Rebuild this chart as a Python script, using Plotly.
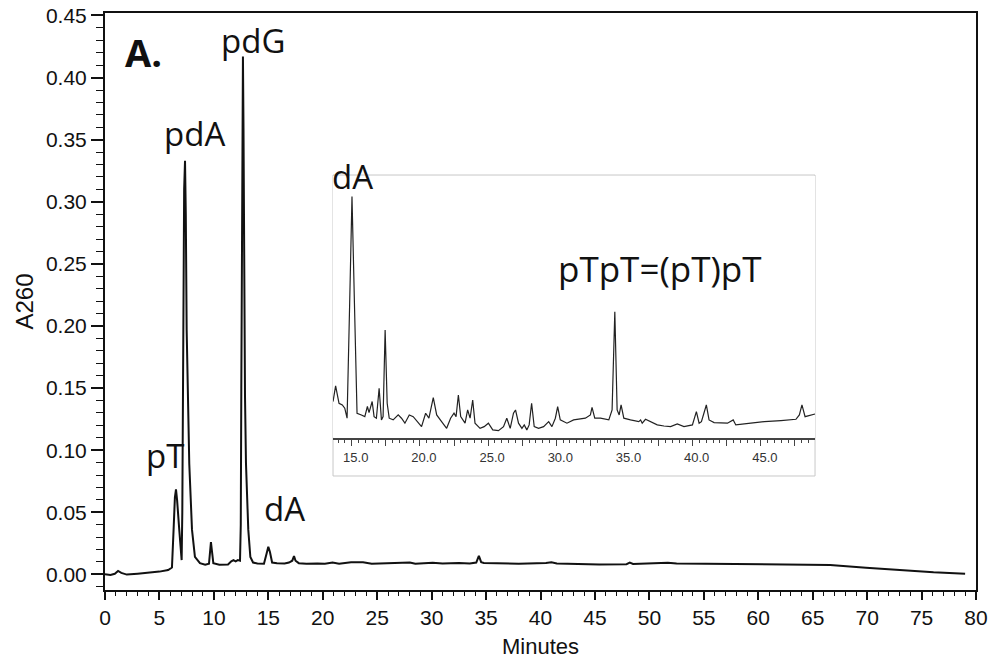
import plotly.graph_objects as go

# Main chromatogram (minutes, A260)
main_t = [0.0, 0.5, 0.9, 1.2, 1.5, 2.0, 3.0, 4.0, 5.0, 5.8, 6.15, 6.3, 6.42, 6.52, 6.62, 6.82, 6.95, 7.04,
          7.1, 7.17, 7.27, 7.35, 7.42, 7.5, 7.59, 7.74, 7.99, 8.26, 8.72, 9.2, 9.55, 9.65, 9.73, 9.82, 9.95,
          10.5, 11.3, 11.6, 11.8, 12.0, 12.2, 12.4, 12.47, 12.52, 12.57, 12.63, 12.67, 12.72, 12.79, 12.86,
          12.95, 13.16, 13.35, 13.6, 14.0, 14.6, 14.85, 15.0, 15.15, 15.35, 15.8, 16.5, 16.9, 17.2, 17.36,
          17.5, 17.8, 18.5, 19.5, 20.2, 20.9, 21.5, 22.6, 23.7, 24.5, 26.0, 26.8, 28.0, 28.5, 30.1, 31.0,
          32.5, 33.5, 34.1, 34.34, 34.55, 34.8, 36.0, 38.0, 40.5, 41.0, 41.5, 43.0, 45.4, 47.9, 48.2, 48.5,
          51.0, 51.7, 52.5, 54.6, 57.4, 59.8, 63.0, 66.6, 69.9, 72.5, 74.8, 76.1, 79.0]
main_a = [0.0000, -0.0005, 0.0005, 0.0027, 0.0012, -0.0002, 0.0005, 0.0012, 0.0022, 0.0035, 0.0055, 0.036,
          0.062, 0.0684, 0.060, 0.036, 0.016, 0.0115, 0.05, 0.2, 0.31, 0.333, 0.29, 0.197, 0.143, 0.089, 0.036,
          0.014, 0.009, 0.0078, 0.0085, 0.02, 0.026, 0.019, 0.009, 0.0078, 0.008, 0.0105, 0.0115, 0.0105,
          0.0115, 0.011, 0.04, 0.15, 0.3, 0.4, 0.417, 0.36, 0.197, 0.143, 0.089, 0.036, 0.014, 0.0095, 0.0088,
          0.0085, 0.017, 0.0222, 0.018, 0.0095, 0.009, 0.0088, 0.0095, 0.011, 0.0147, 0.011, 0.009, 0.0085,
          0.0088, 0.0085, 0.0095, 0.0085, 0.0098, 0.0098, 0.0085, 0.0088, 0.0092, 0.0095, 0.0085, 0.0093,
          0.0088, 0.0092, 0.0088, 0.0095, 0.0149, 0.0098, 0.0092, 0.009, 0.0086, 0.0092, 0.0097, 0.0088,
          0.0085, 0.008, 0.0082, 0.0094, 0.0083, 0.0087, 0.0094, 0.0088, 0.0086, 0.0083, 0.0076, 0.0075,
          0.0075, 0.0053, 0.0035, 0.0021, 0.0016, 0.0005]

# Inset (zoomed region, mAU)
inset_t = [13.63, 13.82, 14.07, 14.31, 14.49, 14.66, 14.85, 15.02, 15.20, 15.39, 15.71, 15.96, 16.15, 16.27,
           16.50, 16.64, 16.81, 17.01, 17.18, 17.30, 17.45, 17.60, 17.75, 18.04, 18.41, 18.65, 18.90, 19.22,
           19.51, 19.80, 20.12, 20.42, 20.66, 20.98, 21.23, 21.59, 21.96, 22.25, 22.50, 22.65, 22.82, 22.99,
           23.31, 23.50, 23.68, 23.87, 24.04, 24.41, 24.71, 25.02, 25.34, 25.76, 26.13, 26.37, 26.62, 26.86,
           27.01, 27.23, 27.48, 27.65, 27.84, 28.01, 28.19, 28.38, 28.70, 29.07, 29.44, 29.68, 29.93, 30.10,
           30.29, 30.78, 31.27, 32.13, 32.50, 32.62, 32.82, 33.24, 33.85, 34.09, 34.29, 34.46, 34.61, 34.75,
           34.95, 35.44, 36.05, 36.18, 36.30, 36.54, 36.91, 37.40, 37.89, 38.38, 38.87, 39.36, 39.98, 40.27,
           40.47, 40.64, 41.00, 41.20, 41.57, 42.55, 42.97, 43.16, 44.26, 45.25, 46.47, 47.57, 47.82, 48.01,
           48.24, 48.68, 48.97]
inset_a = [8.86, 9.86, 8.75, 8.64, 8.43, 7.79, 15.17, 22.02, 15.17, 8.11, 8.00, 7.89, 8.54, 8.15,
           8.86, 7.89, 7.79, 9.71, 7.68, 7.89, 13.46, 8.75, 7.79, 7.68, 8.00, 7.79, 7.47, 8.00,
           7.89, 7.57, 7.25, 8.11, 7.79, 9.11, 8.00, 7.57, 7.14, 7.79, 8.11, 7.89, 9.28, 7.89,
           7.47, 8.32, 7.79, 8.96, 7.47, 7.14, 7.25, 7.47, 7.04, 6.99, 7.25, 7.79, 7.14, 8.11, 8.32,
           7.47, 7.14, 7.36, 7.04, 7.36, 8.75, 7.25, 7.14, 7.25, 7.57, 7.25, 7.79, 8.54,
           7.68, 7.47, 7.68, 7.79, 8.00, 8.49, 7.79, 7.79, 7.68, 8.32, 14.63, 8.32, 8.00, 8.64,
           7.79, 7.68, 7.57, 7.68, 7.47, 7.72, 7.57, 7.36, 7.29, 7.25, 7.42, 7.25, 7.36, 8.21,
           7.47, 7.57, 8.64, 7.68, 7.51, 7.47, 7.68, 7.36, 7.47, 7.57, 7.64, 7.72, 8.00, 8.64,
           7.89, 8.00, 8.06]

inset_ticks = [15, 17.5, 20, 22.5, 25, 27.5, 30, 32.5, 35, 37.5, 40, 42.5, 45, 47.5]
inset_ticktext = ["15.0", "", "20.0", "", "25.0", "", "30.0", "", "35.0", "", "40.0", "", "45.0", ""]

fig = go.Figure()
fig.add_trace(go.Scatter(x=main_t, y=main_a, mode="lines",
                         line=dict(color="#111111", width=2), showlegend=False, hoverinfo="skip"))
fig.add_trace(go.Scatter(x=inset_t, y=inset_a, mode="lines", xaxis="x2", yaxis="y2",
                         line=dict(color="#222222", width=1.2), showlegend=False, hoverinfo="skip"))

tickfont = dict(family="Liberation Sans, Arial, sans-serif", size=21, color="#111111")

fig.update_layout(
    width=995, height=663,
    margin=dict(l=105, r=19, t=13, b=73),
    paper_bgcolor="white", plot_bgcolor="white",
    xaxis=dict(range=[0, 80], tick0=0, dtick=5, ticks="outside", ticklen=8, tickwidth=1.5,
               tickcolor="#111111", showline=True, linecolor="#111111", linewidth=2, mirror=True,
               showgrid=False, zeroline=False, tickfont=tickfont, automargin=False,
               minor=dict(dtick=1, tick0=0, ticks="outside", ticklen=4, tickwidth=1.2, tickcolor="#111111",
                          showgrid=False),
               title=dict(text="Minutes", font=dict(family="Liberation Sans, Arial, sans-serif", size=22,
                                                    color="#111111"), standoff=10)),
    yaxis=dict(range=[-0.0126, 0.452], tick0=0, dtick=0.05, tickformat=".2f", ticks="outside", ticklen=12,
               tickwidth=1.5, tickcolor="#111111", showline=True, linecolor="#111111", linewidth=2,
               mirror=True, showgrid=False, zeroline=False, tickfont=tickfont, automargin=False,
               minor=dict(dtick=0.01, tick0=0, ticks="outside", ticklen=7, tickwidth=1.2,
                          tickcolor="#111111", showgrid=False),
               title=dict(text="A260", font=dict(family="Liberation Sans, Arial, sans-serif", size=24,
                                                 color="#111111"), standoff=6)),
    xaxis2=dict(domain=[0.2618, 0.8152], anchor="y2", range=[13.63, 48.97], tickmode="array",
                tickvals=inset_ticks, ticktext=inset_ticktext, ticks="outside", ticklen=7, tickwidth=1,
                tickcolor="#444444", showline=True, linecolor="#444444", linewidth=1.5,
                showgrid=False, zeroline=False, ticklabelshift=4, automargin=False,
                tickfont=dict(family="Liberation Sans, Arial, sans-serif", size=13, color="#333333"),
                minor=dict(dtick=0.5, tick0=15, ticks="outside", ticklen=4, tickwidth=1,
                           tickcolor="#444444", showgrid=False)),
    yaxis2=dict(domain=[0.264, 0.7175], anchor="x2", range=[6.54, 23.34], visible=False),
)

fig.add_shape(type="rect", xref="paper", yref="paper", x0=0.2618, x1=0.8152, y0=0.1976, y1=0.7192,
              line=dict(color="#c8c8c8", width=1), fillcolor="white", layer="below")

lab = dict(family="Open Sans, sans-serif", size=33, color="#111111")
fig.add_annotation(x=13.59, y=0.430, xref="x", yref="y", text="pdG", showarrow=False, font=lab)
fig.add_annotation(x=8.26, y=0.355, xref="x", yref="y", text="pdA", showarrow=False, font=lab)
fig.add_annotation(x=5.51, y=0.0955, xref="x", yref="y", text="pT", showarrow=False, font=lab)
fig.add_annotation(x=16.53, y=0.0528, xref="x", yref="y", text="dA", showarrow=False, font=lab)
fig.add_annotation(x=3.49, y=0.421, xref="x", yref="y", text="<b>A.</b>", showarrow=False,
                   font=dict(family="Open Sans, sans-serif", size=38, color="#111111"))
fig.add_annotation(x=0.2847, y=0.7175, xref="paper", yref="paper", xanchor="center", yanchor="middle",
                   text="dA", showarrow=False, font=lab)
fig.add_annotation(x=37.57, y=17.4, xref="x2", yref="y2", text="pTpT=(pT)pT", showarrow=False,
                   font=dict(family="Open Sans, sans-serif", size=35, color="#111111"))

fig.write_html("out.html", config={"displayModeBar": False},
               post_script="document.body.style.margin='0';")
